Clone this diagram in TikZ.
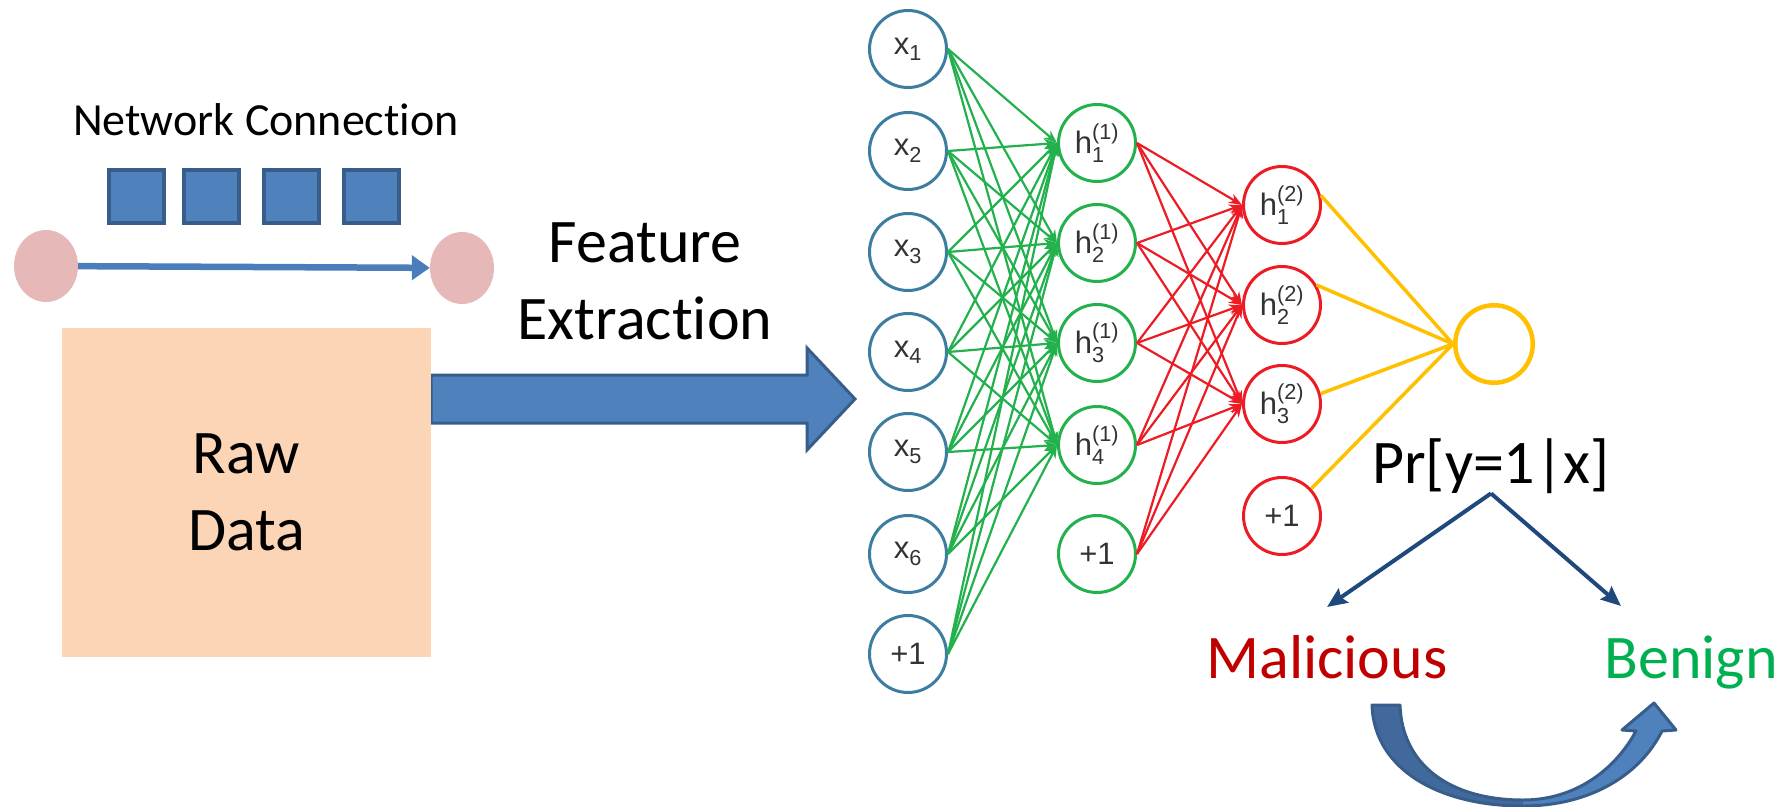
\documentclass[tikz,border=0pt]{standalone}
\usepackage{amsmath}
\usepackage{fontspec}
\setmainfont{Carlito}[Ligatures={NoCommon}]
\newfontfamily\netfont{Liberation Sans}
\usetikzlibrary{arrows.meta,shapes.geometric}

\definecolor{boxblue}{HTML}{4F81BD}
\definecolor{boxedge}{HTML}{385D8A}
\definecolor{peach}{HTML}{FBD5B5}
\definecolor{pinkdot}{HTML}{E6B9B8}
\definecolor{linkblue}{HTML}{4A7EBB}
\definecolor{inblue}{HTML}{3C7DA0}
\definecolor{hgreen}{HTML}{22B14C}
\definecolor{hred}{HTML}{ED1C24}
\definecolor{outgold}{HTML}{FFC000}
\definecolor{navy}{HTML}{1F497D}
\definecolor{malred}{HTML}{C00000}
\definecolor{bengreen}{HTML}{00B050}
\definecolor{labgray}{HTML}{333333}
\definecolor{curvedark}{HTML}{41699C}

\begin{document}
\begin{tikzpicture}[x=1pt,y=-1pt,
  packet/.style={draw=boxedge, fill=boxblue, line width=4pt, minimum width=55pt, minimum height=53pt, inner sep=0pt},
  host/.style={ellipse, fill=pinkdot, minimum width=64pt, minimum height=72pt, inner sep=0pt},
  neuron/.style={circle, line width=3pt, minimum size=77pt, inner sep=0pt,
    font=\netfont\fontsize{31}{33}\selectfont, text=labgray},
  innode/.style={neuron, draw=inblue},
  hidone/.style={neuron, draw=hgreen},
  hidtwo/.style={neuron, draw=hred},
  bigtext/.style={font=\fontsize{62}{77}\selectfont, inner sep=0pt, align=center},
  gedge/.style={hgreen, line width=2.2pt, -{Stealth[length=13pt,width=10pt]}},
  redge/.style={hred, line width=2.2pt, -{Stealth[length=13pt,width=10pt]}},
  yedge/.style={outgold, line width=3.5pt},
  decide/.style={navy, line width=4pt, -{Stealth[length=20pt,width=17pt,inset=3pt]}},
]
\useasboundingbox (0,0) rectangle (1782,806);

% ---- network connection sketch ----
\node[font=\fontsize{46}{50}\selectfont, anchor=base, inner sep=0pt] (nc) at (266,135) {Network Connection};
\node[packet] (p1) at (136.5,196.5) {};
\node[packet] (p2) at (211,196.5) {};
\node[packet] (p3) at (291.5,196.5) {};
\node[packet] (p4) at (371.5,196.5) {};
\node[host] (src) at (46,266) {};
\node[host] (dst) at (462,268) {};
\draw[linkblue, line width=6.5pt, -{Triangle[length=18pt,width=24pt]}] (src) -- (dst);

% ---- raw data and extraction arrow ----
\draw[boxedge, fill=boxblue, line width=3pt]
  (431,375) -- (807,375) -- (807,348) -- (855,399) -- (807,450) -- (807,423) -- (431,423) -- cycle;
\node[bigtext, fill=peach, minimum width=369pt, minimum height=329pt] (raw) at (246.5,492.5) {Raw\\Data};
\node[bigtext] (fe) at (645,281.5) {Feature\\Extraction};

% ---- neural network ----
\node[innode] (x1) at (908,49)  {$\text{x}_{\text{1}}$};
\node[innode] (x2) at (908,151) {$\text{x}_{\text{2}}$};
\node[innode] (x3) at (908,252) {$\text{x}_{\text{3}}$};
\node[innode] (x4) at (908,352) {$\text{x}_{\text{4}}$};
\node[innode] (x5) at (908,452) {$\text{x}_{\text{5}}$};
\node[innode] (x6) at (908,554) {$\text{x}_{\text{6}}$};
\node[innode] (x7) at (908,654) {+1};

\node[hidone] (a1) at (1097,143) {$\text{h}^{\text{(1)}}_{\text{1}}$};
\node[hidone] (a2) at (1097,243) {$\text{h}^{\text{(1)}}_{\text{2}}$};
\node[hidone] (a3) at (1097,343) {$\text{h}^{\text{(1)}}_{\text{3}}$};
\node[hidone] (a4) at (1097,445) {$\text{h}^{\text{(1)}}_{\text{4}}$};
\node[hidone] (a5) at (1097,554) {+1};

\node[hidtwo] (b1) at (1282,205) {$\text{h}^{\text{(2)}}_{\text{1}}$};
\node[hidtwo] (b2) at (1282,305) {$\text{h}^{\text{(2)}}_{\text{2}}$};
\node[hidtwo] (b3) at (1282,404) {$\text{h}^{\text{(2)}}_{\text{3}}$};
\node[hidtwo] (b4) at (1282,516) {+1};

\node[circle, draw=outgold, line width=4.5pt, minimum size=77.5pt, inner sep=0pt] (out) at (1494,344) {};

\foreach \i in {1,...,7}
  \foreach \j in {1,...,4}
    \draw[gedge] (x\i.east) -- (a\j.west);
\foreach \i in {1,...,5}
  \foreach \j in {1,...,3}
    \draw[redge] (a\i.east) -- (b\j.west);

\draw[yedge] (b1.14) -- (out.west);
\draw[yedge] (b2.30) -- (out.west);
\draw[yedge] (b3.15) -- (out.west);
\draw[yedge] (b4.43) -- (out.west);

% ---- decision ----
\node[bigtext, anchor=base] (pr) at (1491,483) {Pr[y=1|x]};
\node[bigtext, anchor=base, text=malred] (mal) at (1327,678) {Malicious};
\node[bigtext, anchor=base, text=bengreen] (ben) at (1691,678) {Benign};
\coordinate (maltip) at (1327,607);
\coordinate (bentip) at (1621,606);
\draw[decide] (pr.south) -- (maltip);
\draw[decide] (pr.south) -- (bentip);

% ---- curved arrow from Malicious to Benign ----
\fill[boxblue]
  (1372,705) .. controls (1374,770) and (1440,806) .. (1523,806)
  .. controls (1590,806) and (1640,775) .. (1662,731)
  -- (1676,730) -- (1654,703) -- (1622,730) -- (1636,731)
  .. controls (1615,770) and (1575,800) .. (1523,800)
  .. controls (1450,800) and (1402,765) .. (1400,705) -- cycle;
\fill[curvedark]
  (1372,705) .. controls (1374,770) and (1440,806) .. (1523,806)
  -- (1523,800) .. controls (1450,800) and (1402,765) .. (1400,705) -- cycle;
\draw[boxedge, line width=3pt, line join=round]
  (1372,705) .. controls (1374,770) and (1440,806) .. (1523,806)
  .. controls (1590,806) and (1640,775) .. (1662,731)
  -- (1676,730) -- (1654,703) -- (1622,730) -- (1636,731)
  .. controls (1615,770) and (1575,800) .. (1523,800)
  .. controls (1450,800) and (1402,765) .. (1400,705) -- cycle;
\end{tikzpicture}
\end{document}
